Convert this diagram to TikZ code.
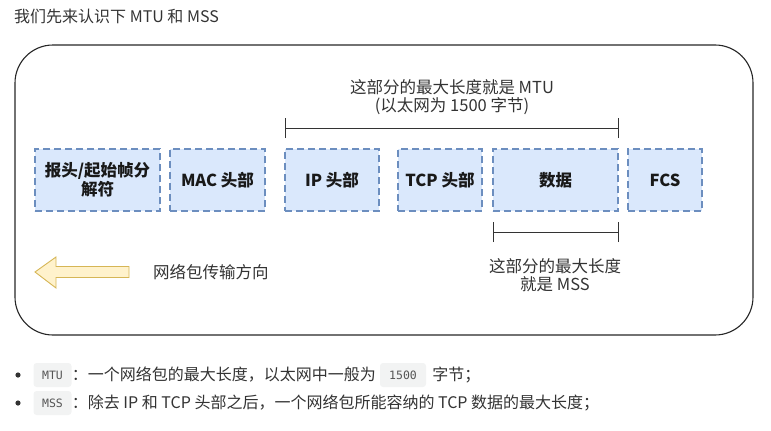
\documentclass[tikz,border=0pt]{standalone}
\usepackage{fontspec}
\setmainfont{Noto Sans CJK SC}
\setmonofont{DejaVu Sans Mono}
\definecolor{txt}{HTML}{333333}
\definecolor{boxfill}{HTML}{DAE8FC}
\definecolor{boxline}{HTML}{6C8EBF}
\definecolor{arrfill}{HTML}{FFF2CC}
\definecolor{arrline}{HTML}{D6B656}
\definecolor{codebg}{HTML}{F2F3F3}
\definecolor{codetxt}{HTML}{555555}
\tikzset{
  field/.style={draw=boxline, fill=boxfill, line width=1.8pt, dash pattern=on 7pt off 4pt,
    minimum height=62pt, inner sep=0pt, align=center, font=\fontsize{16.5}{19}\selectfont\bfseries, text=black!90},
  lbl/.style={align=center, font=\fontsize{16.5}{18.5}\selectfont, text=txt},
  brk/.style={line width=1pt, draw=black!80},
  codebox/.style={fill=codebg, rounded corners=3pt, inner sep=0pt, minimum height=24pt, font=\ttfamily\fontsize{11.5}{13}\selectfont, text=codetxt},
  plain/.style={anchor=west, inner sep=0pt, font=\fontsize{16}{18}\selectfont, text=txt}
}
\begin{document}
\begin{tikzpicture}[x=1pt,y=-1pt]
\useasboundingbox (0,0) rectangle (771,431);
% title
\node[plain] (title) at (14,16) {我们先来认识下 MTU 和 MSS};
% frame
\draw[line width=1.1pt, draw=black!85, rounded corners=38pt] (15,45) rectangle (753,335);
% fields
\node[field, minimum width=125pt] (b1) at (97.5,180) {报头/起始帧分\\解符};
\node[field, minimum width=95pt] (b2) at (217.5,180) {MAC 头部};
\node[field, minimum width=94pt] (b3) at (332,180) {IP 头部};
\node[field, minimum width=84pt] (b4) at (440,180) {TCP 头部};
\node[field, minimum width=125pt] (b5) at (555.5,180) {数据};
\node[field, minimum width=74pt] (b6) at (665,180) {FCS};
% MTU bracket
\coordinate (m1) at (285,128);
\coordinate (m2) at (618,128);
\draw[brk] (m1) -- (m2);
\draw[brk] ([yshift=-10pt]m1) -- ([yshift=10pt]m1);
\draw[brk] ([yshift=-10pt]m2) -- ([yshift=10pt]m2);
\node[lbl] (mtu) at (452,97) {这部分的最大长度就是 MTU\\(以太网为 1500 字节)};
% MSS bracket
\coordinate (s1) at (493,232);
\coordinate (s2) at (618,232);
\draw[brk] (s1) -- (s2);
\draw[brk] ([yshift=-10pt]s1) -- ([yshift=10pt]s1);
\draw[brk] ([yshift=-10pt]s2) -- ([yshift=10pt]s2);
\node[lbl] (mss) at (555,275) {这部分的最大长度\\就是 MSS};
% direction arrow
\draw[draw=arrline, fill=arrfill, line width=0.9pt, line join=miter]
  (35,272) -- (56,257) -- (56,266.5) -- (129,266.5) -- (129,277.5) -- (56,277.5) -- (56,288) -- cycle;
\node[plain, font=\fontsize{16.5}{18}\selectfont] (dir) at (153,272) {网络包传输方向};
% bullets
\fill[txt] (18,375) circle (2.6pt);
\node[codebox, minimum width=38pt] (c1) at (52.5,375) {MTU};
\node[plain] (t1) at (c1.east) {：一个网络包的最大长度，以太网中一般为};
\node[codebox, minimum width=46pt] (c2) at (403,375) {1500};
\node[plain] (t2) at ([xshift=6pt]c2.east) {字节；};
\fill[txt] (18,403) circle (2.6pt);
\node[codebox, minimum width=38pt] (c3) at (52.5,403) {MSS};
\node[plain] (t3) at (c3.east) {：除去 IP 和 TCP 头部之后，一个网络包所能容纳的 TCP 数据的最大长度；};
\end{tikzpicture}
\end{document}
